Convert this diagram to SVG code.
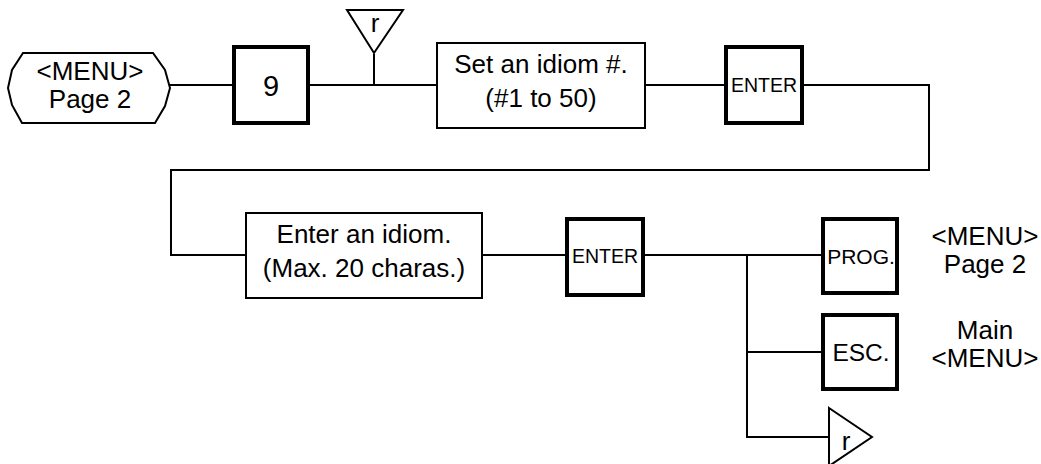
<svg xmlns="http://www.w3.org/2000/svg" width="1041" height="464" viewBox="0 0 1041 464">
<style>
.t{font-family:"Liberation Sans",Arial,sans-serif;font-size:26px;fill:#000;text-anchor:middle}
.k{font-family:"Liberation Sans",Arial,sans-serif;fill:#000;text-anchor:middle}
.box{fill:#fff;stroke:#000;stroke-width:2}
.key{fill:#fff;stroke:#000;stroke-width:4}
.ln{fill:none;stroke:#000;stroke-width:2}
</style>
<rect width="1041" height="464" fill="#fff"/>
<g id="connectors">
<polyline class="ln" points="170,85 232,85"/>
<polyline class="ln" points="310,85 437,85"/>
<polyline class="ln" points="374,54 374,85"/>
<polyline class="ln" points="645,85 724,85"/>
<polyline class="ln" points="804,85 929,85 929,170 171,170 171,255 246,255"/>
<polyline class="ln" points="482,255 565,255"/>
<polyline class="ln" points="645,255 821,255"/>
<polyline class="ln" points="747,255 747,437 829,437"/>
<polyline class="ln" points="747,352 821,352"/>
</g>
<g id="start">
<polygon class="box" points="23,53 153,53 165,70 170,88 165,106 155,123 22,123 12,105 8,88 12,70"/>
<text class="t" x="90" y="80">&lt;MENU&gt;</text>
<text class="t" x="90" y="108">Page 2</text>
</g>
<g id="key9">
<rect class="key" x="234" y="47" width="74" height="76"/>
<text class="k" x="271" y="96" font-size="29">9</text>
</g>
<g id="ret1">
<polygon class="box" points="347,10 403,10 374,53"/>
<text class="t" x="375" y="32">r</text>
</g>
<g id="setIdiom">
<rect class="box" x="437" y="43" width="208" height="85"/>
<text class="t" x="541" y="73">Set an idiom #.</text>
<text class="t" x="541" y="107">(#1 to 50)</text>
</g>
<g id="enter1">
<rect class="key" x="726" y="47" width="76" height="76"/>
<text class="k" x="764" y="92" font-size="19.5">ENTER</text>
</g>
<g id="enterIdiom">
<rect class="box" x="246" y="213" width="236" height="85"/>
<text class="t" x="364" y="243">Enter an idiom.</text>
<text class="t" x="364" y="277">(Max. 20 charas.)</text>
</g>
<g id="enter2">
<rect class="key" x="567" y="219" width="76" height="76"/>
<text class="k" x="605" y="263" font-size="19.5">ENTER</text>
</g>
<g id="prog">
<rect class="key" x="823" y="219" width="74" height="74"/>
<text class="k" x="861" y="264" font-size="21">PROG.</text>
</g>
<g id="esc">
<rect class="key" x="823" y="315" width="74" height="74"/>
<text class="k" x="861" y="361" font-size="24.5">ESC.</text>
</g>
<g id="ret2">
<polygon class="box" points="829,408 872,437 829,466"/>
<text class="t" x="846" y="450">r</text>
</g>
<g id="labels">
<text class="t" x="985" y="245">&lt;MENU&gt;</text>
<text class="t" x="985" y="273">Page 2</text>
<text class="t" x="985" y="339">Main</text>
<text class="t" x="985" y="367">&lt;MENU&gt;</text>
</g>
</svg>
